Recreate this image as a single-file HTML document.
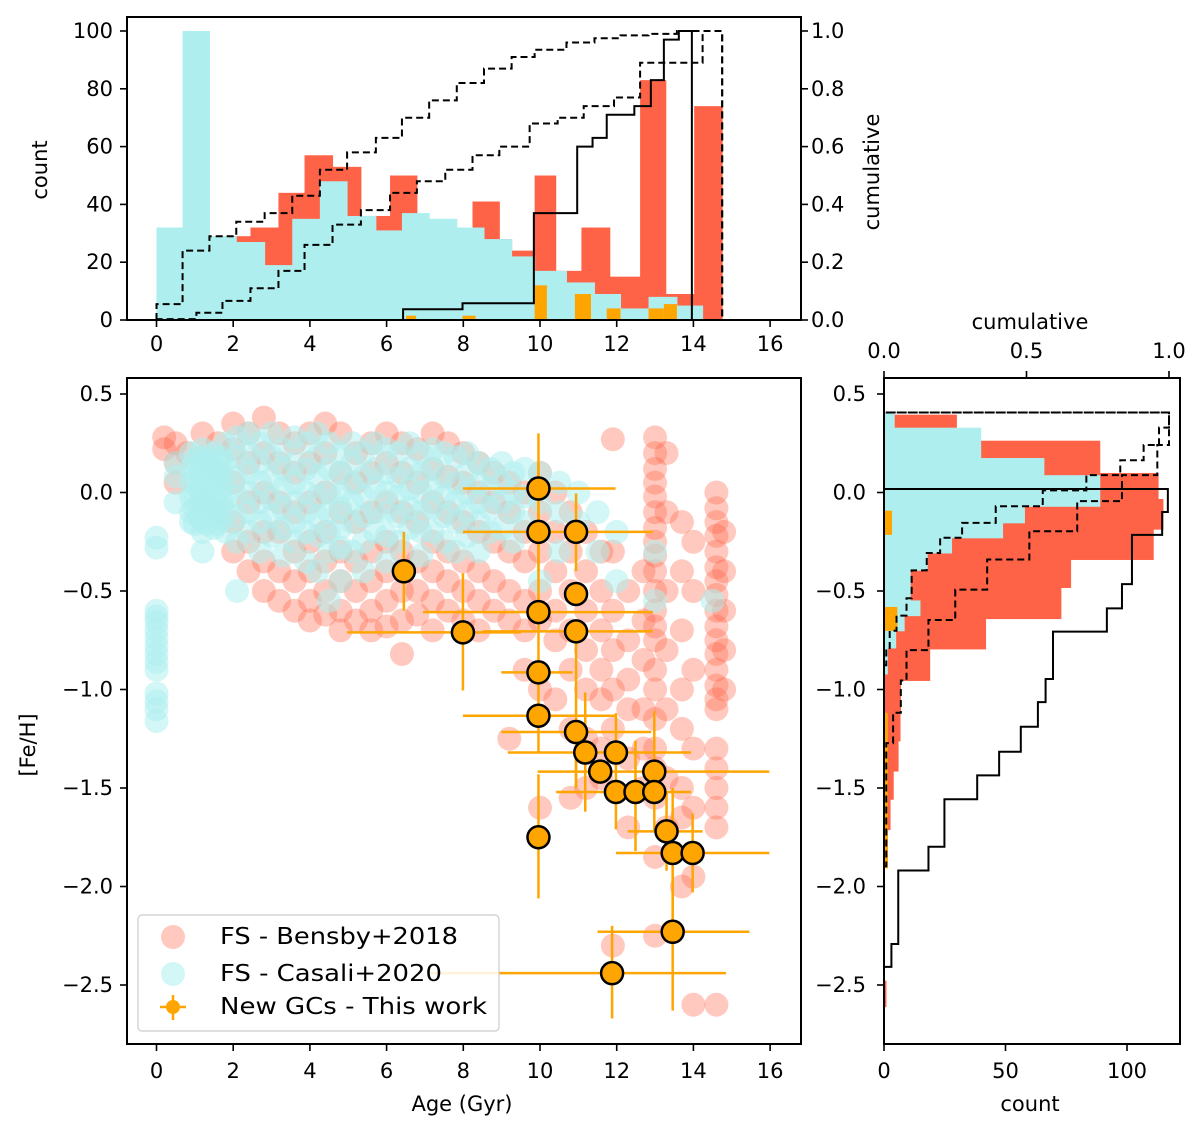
<!DOCTYPE html>
<html><head><meta charset="utf-8"><style>
html,body{margin:0;padding:0;background:#fff;}
svg{display:block;font-family:"DejaVu Sans","Liberation Sans",sans-serif;}
</style></head><body>
<svg id="fig" width="1200" height="1134" viewBox="0 0 1200 1134" xmlns="http://www.w3.org/2000/svg">
<defs>
<clipPath id="clipMain"><rect x="127" y="378" width="674" height="666"/></clipPath>
<clipPath id="clipTop"><rect x="127" y="17" width="674" height="303"/></clipPath>
<clipPath id="clipRight"><rect x="884" y="378" width="296" height="666"/></clipPath>
</defs>
<g id="topHist"></g>
<g id="mainPlot"></g>
<g id="rightHist"></g>
<g id="axes"></g>
</svg>
<script>
// ---------- data: top age histogram ----------
const casAgeEdges = [0,0.68,1.38,2.08,2.82,3.54,4.26,4.97,5.72,6.40,7.11,7.83,8.54,9.26,9.86,10.69,11.42,12.10,12.83,13.57,14.24];
const casAgeCounts = [32,100,29,27,19,35,48,36,31,37,35,32,28,22,17,13,9,4,8,5];
const benAgeEdges = [1.72,2.45,3.18,3.86,4.59,5.33,5.72,6.09,6.79,8.24,8.94,9.26,9.86,10.41,11.08,11.82,12.61,13.28,14.02,14.75];
const benAgeCounts = [29,32,44,57,53,36,36,50,30,41,28,24,50,17,32,15,83,9,74];
const gcAgeBinsLo = [6.51,7.98,9.86,10.91,11.74,12.83,13.23];
const gcAgeBinsHi = [6.77,8.32,10.18,11.33,12.10,13.23,13.57];
const gcAgeCounts = [1.5,1.5,12,9,4,4,5.5];
const casAgeCumEdges = [0,0.68,1.38,2.08,2.82,3.54,4.26,4.97,5.72,6.40,7.11,7.83,8.54,9.26,9.86,10.69,11.42,12.10,12.83,13.57,14.75];
const casAgeCum = [0.055,0.24,0.29,0.34,0.37,0.43,0.52,0.58,0.63,0.70,0.76,0.82,0.87,0.91,0.935,0.96,0.975,0.985,0.99,1.0];
const benAgeCumEdges = [0,1.04,1.72,2.45,3.18,3.86,4.59,5.33,6.09,6.79,7.53,8.24,8.94,9.73,10.46,11.14,11.93,12.61,14.24,14.75];
const benAgeCum = [0.003,0.025,0.066,0.11,0.17,0.26,0.33,0.38,0.44,0.48,0.52,0.57,0.60,0.68,0.70,0.74,0.77,0.89,1.0];
const gcAgeCumEdges = [6.43,7.98,9.84,10.97,11.37,11.74,12.46,12.89,13.23,13.62,13.96];
const gcAgeCum = [0.037,0.058,0.37,0.6,0.63,0.71,0.74,0.83,0.97,1.0];

// ---------- data: right metallicity histogram ----------
const benFehEdges = [0.395,0.329,0.263,0.175,0.099,-0.033,-0.186,-0.34,-0.482,-0.64,-0.794,-0.954,-1.118,-1.261,-1.414,-1.557,-1.711,-1.897,-2.478,-2.61];
const benFehCounts = [30,30,89,89,113,115,111,77,73,42,19,7,6.8,6,4,2.7,1.6,0,1];
const casFehEdges = [0.406,0.329,0.175,0.088,-0.07,-0.154,-0.23,-0.307,-0.395,-0.548,-0.625,-0.702,-0.789,-0.921];
const casFehCounts = [4.4,40,66,89,58,49,28,18,11,15,8.5,5,1.6];
const gcFehLo = [-0.092,-0.581,-1.118];
const gcFehHi = [-0.215,-0.702,-1.908];
const gcFehCounts = [3.3,5.5,1.6];
const gcFehCumEdges = [-2.408,-2.292,-1.919,-1.798,-1.557,-1.436,-1.316,-1.189,-1.064,-0.947,-0.706,-0.588,-0.465,-0.215,-0.099,0.018];
const gcFehCum = [0.026,0.05,0.156,0.212,0.327,0.404,0.48,0.54,0.567,0.593,0.782,0.835,0.87,0.976,0.996];
const benFehCumEdges = [-1.897,-1.272,-1.118,-0.954,-0.8,-0.647,-0.493,-0.34,-0.197,-0.044,0.088,0.241,0.406];
const benFehCum = [0.008,0.032,0.059,0.079,0.156,0.25,0.362,0.51,0.678,0.835,0.959,1.0];
const casFehCumEdges = [-0.877,-0.789,-0.702,-0.625,-0.537,-0.395,-0.307,-0.23,-0.154,-0.07,0.011,0.088,0.164,0.241,0.329,0.406];
const casFehCum = [0.008,0.02,0.044,0.079,0.097,0.15,0.197,0.274,0.392,0.557,0.71,0.829,0.911,0.965,1.0];

// ---------- data: scatter (columns of age with metallicities) ----------
const casColAge = [0,0.5,0.9,1.0,1.1,1.2,1.3,1.4,1.5,1.6,1.7,1.8,2.1,2.4,2.7,3.0,3.3,3.6,3.9,4.2,4.5,4.8,5.1,5.4,5.7,6.0,6.3,6.6,6.9,7.2,7.5,7.8,8.1,8.4,8.7,9.0,9.3,9.6,10.0,10.5,11.0,11.5,12.0,13.0,14.5];
const casColFeh = [
 [-0.23,-0.28,-0.6,-0.63,-0.66,-0.7,-0.74,-0.78,-0.82,-0.86,-0.9,-1.02,-1.06,-1.1,-1.16],
 [0.15,0.08,-0.05],
 [0.2,0.12,0.05,-0.02,-0.1,-0.15],
 [0.16,0.08,0.0,-0.08,-0.16],
 [0.18,0.1,0.02,-0.06,-0.12],
 [0.22,0.15,0.08,0.0,-0.07,-0.14,-0.2,-0.3],
 [0.16,0.08,0.0,-0.08,-0.16],
 [0.18,0.1,0.02,-0.06,-0.12],
 [0.2,0.1,0.03,-0.05,-0.12,-0.18],
 [0.16,0.08,0.0,-0.08,-0.16],
 [0.18,0.1,0.02,-0.06,-0.14],
 [0.25,0.15,0.06,-0.03,-0.1,-0.2],
 [0.28,0.18,0.08,-0.02,-0.12,-0.25,-0.5],
 [0.3,0.2,0.1,0.0,-0.1,-0.2],
 [0.25,0.15,0.05,-0.05,-0.15,-0.3],
 [0.3,0.18,0.07,-0.03,-0.12,-0.22],
 [0.22,0.12,0.02,-0.08,-0.18,-0.32],
 [0.28,0.15,0.05,-0.05,-0.15,-0.25],
 [0.25,0.12,0.0,-0.1,-0.2,-0.35],
 [0.3,0.18,0.08,-0.02,-0.12,-0.22,-0.4],
 [0.25,0.12,0.0,-0.1,-0.2,-0.3,-0.55],
 [0.2,0.1,0.0,-0.08,-0.18,-0.28,-0.45],
 [0.25,0.15,0.05,-0.05,-0.15,-0.3],
 [0.2,0.08,-0.02,-0.12,-0.25,-0.4],
 [0.25,0.12,0.02,-0.1,-0.2],
 [0.22,0.1,0.0,-0.1,-0.22,-0.35],
 [0.2,0.08,-0.02,-0.12,-0.25],
 [0.25,0.12,0.02,-0.08,-0.18],
 [0.2,0.1,0.0,-0.1,-0.2,-0.32],
 [0.22,0.12,0.02,-0.08,-0.2],
 [0.2,0.08,-0.02,-0.12,-0.25],
 [0.18,0.05,-0.05,-0.15,-0.3],
 [0.2,0.1,0.0,-0.1,-0.22],
 [0.15,0.05,-0.05,-0.15,-0.3],
 [0.12,0.02,-0.08,-0.2],
 [0.15,0.05,-0.05,-0.18],
 [0.1,0.0,-0.1,-0.25],
 [0.12,-0.02,-0.15],
 [0.1,-0.05,-0.2,-0.45],
 [0.05,-0.1,-0.3],
 [0.0,-0.15],
 [-0.1,-0.3],
 [-0.2,-0.45],
 [-0.3,-0.55],
 [-0.55]
];
const benColAge = [0.2,0.5,0.8,1.2,1.6,2.0,2.4,2.8,3.2,3.6,4.0,4.4,4.8,5.2,5.6,6.0,6.4,6.8,7.2,7.6,8.0,8.4,8.8,9.2,9.6,10.0,10.4,10.8,11.2,11.6,11.9,12.3,12.7,13.0,13.3,13.7,14.0,14.6,14.8];
const benColFeh = [
 [0.28,0.22],
 [0.25,0.15,0.05],
 [0.2],
 [0.3,0.18,-0.05],
 [0.25,0.1,-0.1],
 [0.35,0.22,0.05,-0.15,-0.3],
 [0.3,0.15,-0.05,-0.25,-0.4],
 [0.38,0.2,0.0,-0.2,-0.35,-0.5],
 [0.3,0.15,-0.05,-0.2,-0.4,-0.55],
 [0.25,0.1,-0.1,-0.3,-0.45,-0.6],
 [0.3,0.15,-0.05,-0.25,-0.4,-0.55,-0.65],
 [0.35,0.2,0.0,-0.2,-0.35,-0.5,-0.62],
 [0.3,0.1,-0.1,-0.3,-0.45,-0.6,-0.7],
 [0.2,0.05,-0.15,-0.35,-0.5,-0.65],
 [0.25,0.1,-0.1,-0.3,-0.45,-0.6,-0.7],
 [0.3,0.15,-0.05,-0.25,-0.4,-0.55,-0.68],
 [0.25,0.1,-0.1,-0.3,-0.5,-0.65,-0.82],
 [0.22,0.05,-0.15,-0.35,-0.5,-0.62],
 [0.3,0.12,-0.05,-0.25,-0.4,-0.55,-0.7],
 [0.25,0.08,-0.1,-0.3,-0.45,-0.6],
 [0.2,0.05,-0.15,-0.35,-0.5,-0.65],
 [0.15,0.0,-0.2,-0.4,-0.55,-0.7],
 [0.1,-0.05,-0.25,-0.45,-0.6],
 [0.05,-0.1,-0.3,-0.5,-0.65,-1.25],
 [0.0,-0.2,-0.35,-0.55,-0.7,-0.9],
 [0.1,-0.1,-0.3,-0.5,-0.65,-1.0,-1.6],
 [0.0,-0.2,-0.4,-0.6,-0.75,-1.05],
 [-0.1,-0.3,-0.5,-0.7,-0.9,-1.2,-1.55],
 [-0.2,-0.4,-0.6,-0.8,-1.0,-1.25,-1.5],
 [-0.3,-0.5,-0.7,-0.9,-1.05,-1.3,-1.45],
 [0.27,-0.3,-0.6,-0.8,-1.0,-1.2,-2.3],
 [-0.5,-0.75,-0.95,-1.1,-1.35,-1.7],
 [-0.4,-0.65,-0.85,-1.1,-1.3,-1.5],
 [0.28,0.2,0.12,0.05,-0.02,-0.1,-0.18,-0.25,-0.32,-0.4,-0.5,-0.6,-0.68,-0.75,-0.9,-1.0,-1.15,-1.3,-1.4,-1.55,-1.85,-2.25],
 [0.2,-0.1,-0.5,-0.8,-1.1,-1.45,-1.7],
 [-0.15,-0.4,-0.7,-1.0,-1.2,-1.5,-1.65,-2.0],
 [-0.25,-0.5,-0.9,-1.3,-1.6,-1.95,-2.6],
 [0.0,-0.08,-0.15,-0.22,-0.3,-0.38,-0.45,-0.52,-0.6,-0.68,-0.75,-0.82,-0.9,-0.98,-1.05,-1.1,-1.3,-1.4,-1.5,-1.6,-1.7,-2.6],
 [-0.2,-0.4,-0.6,-0.8,-1.0]
];
// GCs: age, feh, age error low/high bound, feh error low/high bound
const gcAge = [6.45,7.99,9.96,9.96,10.94,10.94,9.96,10.94,9.96,9.96,10.94,11.18,11.98,11.57,12.98,11.98,12.49,12.98,13.3,13.46,13.98,9.96,13.46,11.88];
const gcFeh = [-0.4,-0.71,0.02,-0.2,-0.2,-0.515,-0.607,-0.705,-0.913,-1.133,-1.216,-1.32,-1.32,-1.417,-1.417,-1.52,-1.52,-1.52,-1.72,-1.83,-1.83,-1.75,-2.23,-2.44];
const gcAgeLo = [6.45,4.97,7.99,7.99,10.94,10.94,6.95,8.5,8.99,7.99,8.99,9.16,11.98,9.94,12.98,10.42,12.49,12.98,12.29,11.98,13.98,9.96,11.5,7.1];
const gcAgeHi = [6.45,9.5,11.97,12.94,10.94,10.94,12.94,12.94,10.85,11.97,12.9,13.94,11.98,15.98,12.98,13.94,12.49,12.98,14.24,15.98,13.98,9.96,15.46,14.85];
const gcFehErrLo = [-0.6,-1.005,-0.25,-0.4,-0.4,-0.515,-1.32,-1.5,-0.913,-1.133,-1.5,-1.62,-1.71,-1.417,-1.72,-1.52,-1.82,-1.52,-1.92,-2.24,-2.03,-2.06,-2.63,-2.67];
const gcFehErrHi = [-0.2,-0.41,0.3,-0.2,-0.005,-0.515,0.15,-0.705,-0.913,-1.133,-1.216,-1.015,-1.12,-1.417,-1.11,-1.52,-1.26,-1.52,-1.52,-1.5,-1.63,-1.43,-1.9,-2.2];

// tick labels
const ageTicks = [0,2,4,6,8,10,12,14,16];
const countTicks = [0,20,40,60,80,100];
const cumTicks = ["0.0","0.2","0.4","0.6","0.8","1.0"];
const fehTicks = ["0.5","0.0","−0.5","−1.0","−1.5","−2.0","−2.5"];
const fehTickVals = [0.5,0,-0.5,-1.0,-1.5,-2.0,-2.5];
const rCountTicks = [0,50,100];
const rCumTicks = ["0.0","0.5","1.0"];

// ---------- scales ----------
const xA = a => 156.5 + a*38.35;
const yC = c => 320 - c*2.89;
const yF = f => 320 - f*289;
const yM = v => 492.5 - v*197;
const xR = c => 884 + c*2.43;
const xRc = f => 884 + f*285;

const NS="http://www.w3.org/2000/svg";
function mk(tag, attrs, parent){const e=document.createElementNS(NS,tag);for(const k in attrs)e.setAttribute(k,attrs[k]);parent.appendChild(e);return e;}
const RED="#ff6347", CYAN="#afeeee", ORANGE="#ffa500";

// ---------- top histogram ----------
const topG = document.getElementById('topHist');
const topClip = mk('g',{'clip-path':'url(#clipTop)'},topG);
for(let i=0;i<benAgeCounts.length;i++){
  const r=mk('rect',{x:xA(benAgeEdges[i]),y:yC(benAgeCounts[i]),width:xA(benAgeEdges[i+1])-xA(benAgeEdges[i])+0.5,height:yC(0)-yC(benAgeCounts[i]),fill:RED},topClip);
  
  
}
for(let i=0;i<casAgeCounts.length;i++){
  const r=mk('rect',{x:xA(casAgeEdges[i]),y:yC(casAgeCounts[i]),width:xA(casAgeEdges[i+1])-xA(casAgeEdges[i])+0.5,height:yC(0)-yC(casAgeCounts[i]),fill:CYAN},topClip);
  
  
}
for(let i=0;i<gcAgeCounts.length;i++){
  const r=mk('rect',{x:xA(gcAgeBinsLo[i]),y:yC(gcAgeCounts[i]),width:xA(gcAgeBinsHi[i])-xA(gcAgeBinsLo[i]),height:yC(0)-yC(gcAgeCounts[i]),fill:ORANGE},topClip);
  
  
}
function stepX(edges, vals, close){
  let d='M'+xA(edges[0])+','+yF(0);
  for(let i=0;i<vals.length;i++){d+=' L'+xA(edges[i])+','+yF(vals[i])+' L'+xA(edges[i+1])+','+yF(vals[i]);}
  if(close) d+=' L'+xA(edges[edges.length-1])+','+yF(0);
  return d;
}
let p;
p=mk('path',{d:stepX(casAgeCumEdges,casAgeCum,true),fill:'none',stroke:'#000','stroke-width':2,'stroke-dasharray':'7,4'},topClip);
 
p=mk('path',{d:stepX(benAgeCumEdges,benAgeCum,true),fill:'none',stroke:'#000','stroke-width':2,'stroke-dasharray':'7,4'},topClip);
 
p=mk('path',{d:stepX(gcAgeCumEdges,gcAgeCum,true),fill:'none',stroke:'#000','stroke-width':2},topClip);
 

// ---------- main scatter ----------
const mainG = document.getElementById('mainPlot');
const mainClip = mk('g',{'clip-path':'url(#clipMain)'},mainG);
for(let i=0;i<benColAge.length;i++){
  for(const v of benColFeh[i]){
    const c=mk('circle',{cx:xA(benColAge[i]),cy:yM(v),r:12,fill:RED,'fill-opacity':0.35},mainClip);
    
    
  }
}
for(let i=0;i<casColAge.length;i++){
  for(const v of casColFeh[i]){
    const c=mk('circle',{cx:xA(casColAge[i]),cy:yM(v),r:12,fill:CYAN,'fill-opacity':0.55},mainClip);
    
    
  }
}
const errG = mk('g',{stroke:ORANGE,'stroke-width':2.5},mainClip);
for(let i=0;i<gcAge.length;i++){
  const h=mk('line',{x1:xA(gcAgeLo[i]),x2:xA(gcAgeHi[i]),y1:yM(gcFeh[i]),y2:yM(gcFeh[i])},errG);
  
  
  const v=mk('line',{x1:xA(gcAge[i]),x2:xA(gcAge[i]),y1:yM(gcFehErrLo[i]),y2:yM(gcFehErrHi[i])},errG);
  
  
}
for(let i=0;i<gcAge.length;i++){
  const c=mk('circle',{cx:xA(gcAge[i]),cy:yM(gcFeh[i]),r:11,fill:ORANGE,stroke:'#000','stroke-width':2.5},mainClip);
  
  
}

// ---------- right histogram ----------
const rh = document.getElementById('rightHist');
const rClip = mk('g',{'clip-path':'url(#clipRight)'},rh);
function hbars(edges, counts, color, name){
  for(let i=0;i<counts.length;i++){
    if(counts[i]<=0) continue;
    const y1=yM(edges[i]), y2=yM(edges[i+1]);
    const r=mk('rect',{x:xR(0),y:Math.min(y1,y2),width:xR(counts[i])-xR(0),height:Math.abs(y2-y1)+0.5,fill:color},rClip);
    
    
  }
}
hbars(benFehEdges,benFehCounts,RED,'bensby-feh-bar');
hbars(casFehEdges,casFehCounts,CYAN,'casali-feh-bar');
for(let i=0;i<gcFehCounts.length;i++){
  const y1=yM(gcFehLo[i]), y2=yM(gcFehHi[i]);
  const r=mk('rect',{x:xR(0),y:Math.min(y1,y2),width:xR(gcFehCounts[i])-xR(0),height:Math.abs(y2-y1),fill:ORANGE},rClip);
  
  
}
function stepY(edges, vals){
  let d='M'+xRc(0)+','+yM(edges[0]);
  for(let i=0;i<vals.length;i++){d+=' L'+xRc(vals[i])+','+yM(edges[i])+' L'+xRc(vals[i])+','+yM(edges[i+1]);}
  d+=' L'+xRc(0)+','+yM(edges[edges.length-1]);
  return d;
}
p=mk('path',{d:stepY(casFehCumEdges,casFehCum),fill:'none',stroke:'#000','stroke-width':2,'stroke-dasharray':'7,4'},rClip);
 
p=mk('path',{d:stepY(benFehCumEdges,benFehCum),fill:'none',stroke:'#000','stroke-width':2,'stroke-dasharray':'7,4'},rClip);
 
p=mk('path',{d:stepY(gcFehCumEdges,gcFehCum),fill:'none',stroke:'#000','stroke-width':2},rClip);
 

// ---------- axes ----------
const ax = document.getElementById('axes');
function frame(x,y,w,h,name){const r=mk('rect',{x:x,y:y,width:w,height:h,fill:'none',stroke:'#000','stroke-width':2},ax);}
frame(127,17,674,303,'top-axes-frame');
frame(127,378,674,666,'main-axes-frame');
frame(884,378,296,666,'right-axes-frame');
function tick(x1,y1,x2,y2){mk('line',{x1:x1,y1:y1,x2:x2,y2:y2,stroke:'#000','stroke-width':1.6},ax);}
function label(txt,x,y,anchor,name,size){
  const t=mk('text',{x:x,y:y,'text-anchor':anchor,'font-size':size||21,fill:'#000','dominant-baseline':'central'},ax);
  t.textContent=txt;
  
  
  return t;
}
ageTicks.forEach(a=>{
  tick(xA(a),320,xA(a),327); label(String(a),xA(a),344,'middle','top-x-tick-label');
  tick(xA(a),1044,xA(a),1051); label(String(a),xA(a),1071,'middle','main-x-tick-label');
});
countTicks.forEach(c=>{tick(127,yC(c),120,yC(c)); label(String(c),113,yC(c),'end','top-count-tick-label');});
cumTicks.forEach((s,i)=>{const f=i*0.2; tick(801,yF(f),808,yF(f)); label(s,811,yF(f),'start','top-cumulative-tick-label');});
fehTickVals.forEach((v,i)=>{
  tick(127,yM(v),120,yM(v)); label(fehTicks[i],113,yM(v),'end','main-y-tick-label');
  tick(884,yM(v),877,yM(v)); label(fehTicks[i],866,yM(v),'end','right-y-tick-label');
});
rCountTicks.forEach(c=>{tick(xR(c),1044,xR(c),1051); label(String(c),xR(c),1071,'middle','right-count-tick-label');});
rCumTicks.forEach((s,i)=>{const f=i*0.5; tick(xRc(f),378,xRc(f),371); label(s,xRc(f),351,'middle','right-cumulative-tick-label');});

label('Age (Gyr)',462,1104,'middle','x-axis-title',21);
label('count',1030,1104,'middle','right-count-axis-title',21);
label('cumulative',1030,322,'middle','right-cumulative-axis-title',21);
let t=label('count',40,170,'middle','top-count-axis-title',21); t.setAttribute('transform','rotate(-90 40 170)');
t=label('cumulative',872,172,'middle','top-cumulative-axis-title',21); t.setAttribute('transform','rotate(-90 872 172)');
t=label('[Fe/H]',28,745,'middle','y-axis-title',21); t.setAttribute('transform','rotate(-90 28 745)');

// ---------- legend ----------
const lg = mk('g',{},ax);


mk('rect',{x:138,y:915,width:361,height:116,rx:4,fill:'#fff','fill-opacity':0.85,stroke:'#ccc','stroke-width':1.2},lg);
let m=mk('circle',{cx:173,cy:937,r:12,fill:RED,'fill-opacity':0.35},lg);
 
m=mk('circle',{cx:173,cy:974,r:12,fill:CYAN,'fill-opacity':0.55},lg);
 
mk('line',{x1:160,x2:186,y1:1007,y2:1007,stroke:ORANGE,'stroke-width':2.5},lg);
mk('line',{x1:173,x2:173,y1:995,y2:1020,stroke:ORANGE,'stroke-width':2.5},lg);
m=mk('circle',{cx:173,cy:1007,r:7,fill:ORANGE},lg);
 
const legTexts=[['FS - Bensby+2018',937,238,'legend-entry-bensby'],['FS - Casali+2020',974,222,'legend-entry-casali'],['New GCs - This work',1007,267,'legend-entry-gcs']];
legTexts.forEach(a=>{const tt=mk('text',{x:220,y:a[1],'font-size':23,'dominant-baseline':'central',textLength:a[2],lengthAdjust:'spacingAndGlyphs'},lg);tt.textContent=a[0];});
</script>
</body></html>
